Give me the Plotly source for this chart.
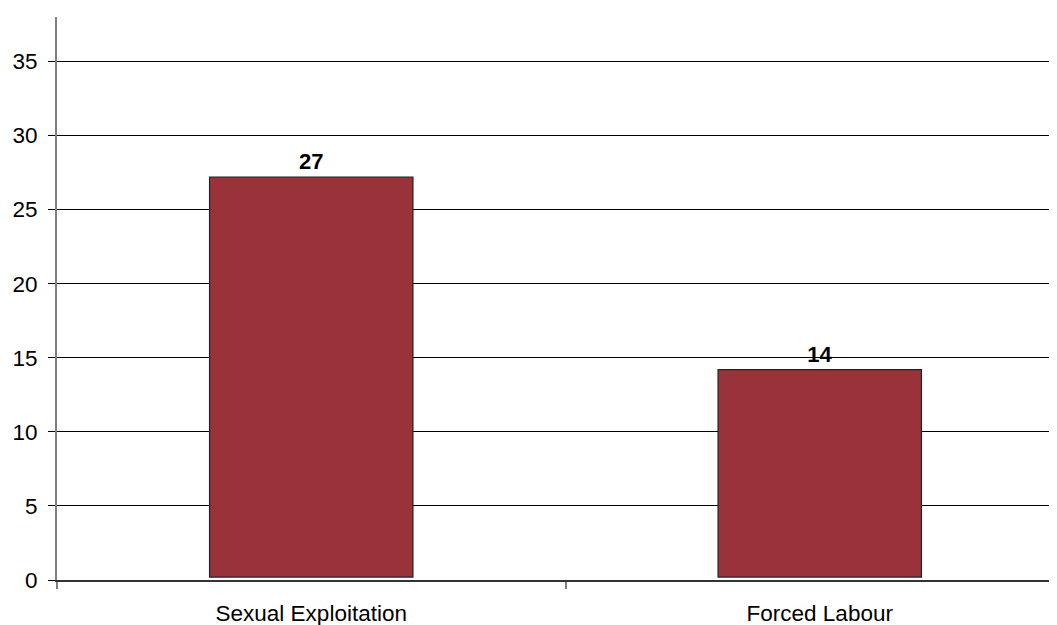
import plotly.graph_objects as go

categories = ["Sexual Exploitation", "Forced Labour"]
values = [27, 14]
labels = ["27", "14"]
tick_vals = [0, 5, 10, 15, 20, 25, 30, 35]

fig = go.Figure()
fig.add_trace(go.Bar(
    x=categories,
    y=values,
    base=0.2,
    text=labels,
    textposition="outside",
    textfont=dict(family="Arial, Liberation Sans", size=22, color="black", weight="bold"),
    marker=dict(color="#993339", line=dict(color="#222222", width=1.2)),
    cliponaxis=False,
))

fig.update_layout(
    width=1066, height=617,
    margin=dict(l=49, r=0, t=9, b=45),
    plot_bgcolor="white", paper_bgcolor="white",
    bargap=0.6,
    showlegend=False,
    font=dict(family="Arial, Liberation Sans", size=22.5, color="black"),
)
fig.update_yaxes(
    range=[0, 38], tickvals=tick_vals,
    showgrid=True, gridcolor="black", gridwidth=1,
    showline=True, linecolor="#808080", linewidth=2,
    ticks="outside", ticklen=7, tickcolor="black",
    zeroline=False, automargin=False,
    ticklabelstandoff=6,
    tickfont=dict(size=22.5),
)
fig.update_xaxes(
    showline=True, linecolor="#333333", linewidth=2,
    ticks="outside", tickson="boundaries", ticklen=7, tickcolor="#808080", tickwidth=2,
    automargin=False, ticklabelstandoff=12,
    tickfont=dict(size=22.5),
)

fig.write_html("out.html")
